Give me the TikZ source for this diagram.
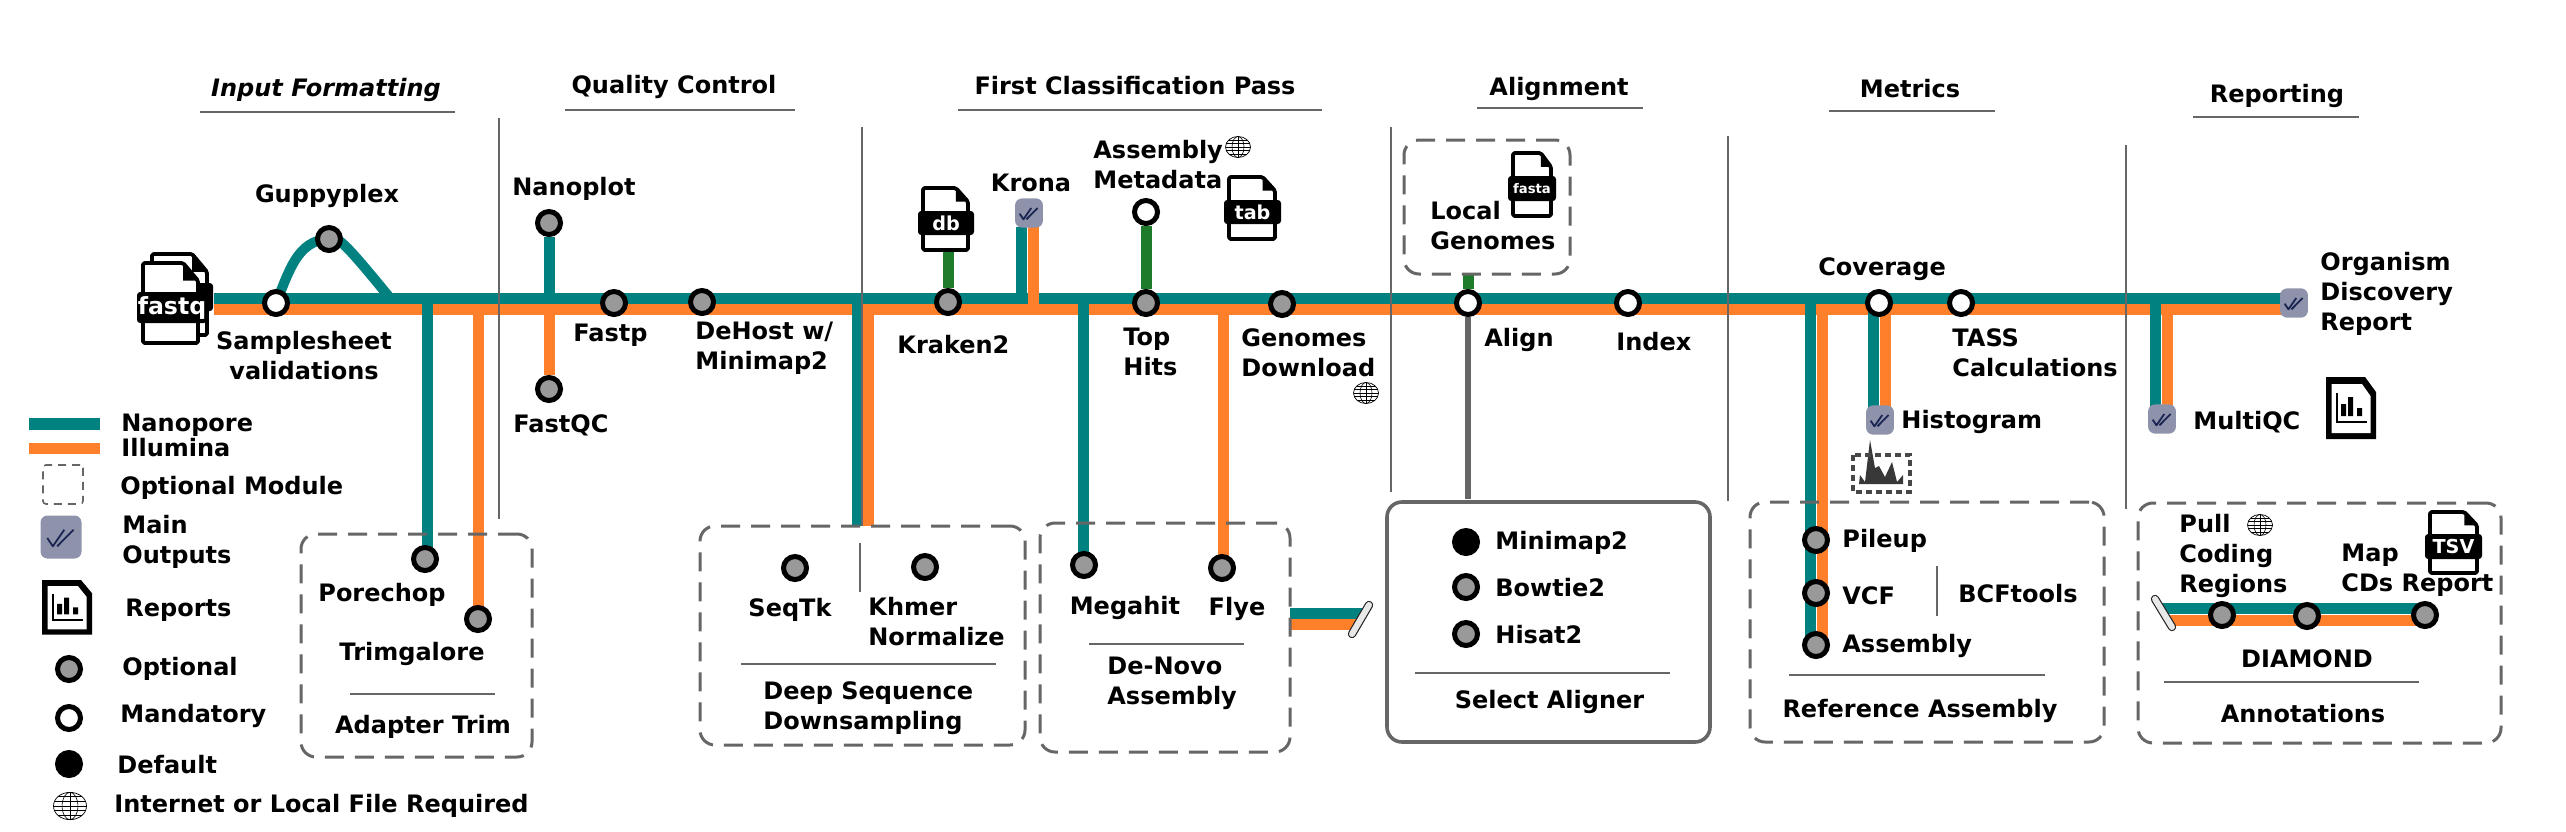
\documentclass[tikz,border=0pt]{standalone}
\usepackage{fontspec}
\setmainfont{DejaVu Sans}
\usetikzlibrary{fit}
\pgfdeclarelayer{lines}
\pgfsetlayers{lines,main}
\definecolor{nanoT}{HTML}{018281}
\definecolor{illuO}{HTML}{FF7F2A}
\definecolor{dbG}{HTML}{1C7C2C}
\definecolor{outF}{HTML}{8E93AB}
\definecolor{outC}{HTML}{1A2552}
\definecolor{ruleC}{HTML}{666666}
\tikzset{
 x=0.5pt,y=-0.5pt,
 tealln/.style={draw=nanoT,line width=5.5pt},
 orgln/.style={draw=illuO,line width=5.5pt},
 grnln/.style={draw=dbG,line width=5.5pt},
 greyln/.style={draw=ruleC,line width=2.8pt},
 optn/.style={circle,draw=black,line width=2.5pt,fill=black!40,minimum size=11.5pt,inner sep=0pt},
 mand/.style={circle,draw=black,line width=2.5pt,fill=white,minimum size=11.5pt,inner sep=0pt},
 deft/.style={circle,draw=black,line width=2.5pt,fill=black,minimum size=11.5pt,inner sep=0pt},
 lab/.style={font=\fontsize{12}{15}\selectfont\bfseries,inner sep=0pt,anchor=west,align=left,yshift=-0.5pt},
 labc/.style={font=\fontsize{12}{15}\selectfont\bfseries,inner sep=0pt,anchor=center,align=center,yshift=-0.5pt},
 hdr/.style={labc,yshift=-1pt},
 secrule/.style={draw=ruleC,line width=0.9pt},
 sepline/.style={draw=ruleC,line width=0.7pt},
 modbox/.style={draw=ruleC,line width=1.5pt,dash pattern=on 9.5pt off 5.5pt,rounded corners=7.5pt,inner sep=0pt},
 solbox/.style={draw=ruleC,line width=1.8pt,rounded corners=7.5pt,inner sep=0pt},
 docpg/.style={draw=black,line width=1.9pt,fill=white,rounded corners=0.8pt,line join=round},
 doclab/.style={fill=black,text=white,rounded corners=1.6pt,inner sep=0pt,font=\fontsize{9.6}{10}\selectfont\bfseries},
 endbar/.style={line width=4.2pt,draw=black!85,line cap=round},
 endbarin/.style={line width=3pt,draw=black!9,line cap=round},
 globe/.pic={
  \draw[line width=0.35pt,black,fill=white] (0,0) ellipse [x radius=12.5,y radius=10.5];
  \draw[line width=0.3pt,black] (0,0) ellipse [x radius=6,y radius=10.5];
  \draw[line width=0.3pt,black] (0,-10.5) -- (0,10.5) (-12.5,0) -- (12.5,0)
    (-11.7,-3.6) -- (11.7,-3.6) (-11.7,3.6) -- (11.7,3.6)
    (-9.2,-7.1) -- (9.2,-7.1) (-9.2,7.1) -- (9.2,7.1);
 },
 outicon/.pic={
  \fill[outF,rounded corners=3.5pt] (-20.5,-21.5) rectangle (20.5,21.5);
  \draw[outC,line width=0.9pt,line join=round] (-13.7,1) -- (-8.2,9.3) -- (3.3,-7.3);
  \draw[outC,line width=0.9pt] (-3.8,9.3) -- (12.6,-7.3);
 },
 repicon/.pic={
  \fill[black] (0,0) -- (39,0) -- (50,15) -- (50,62) -- (0,62) -- cycle;
  \fill[white] (5.5,7) -- (36,7) -- (44.5,19) -- (44.5,56) -- (5.5,56) -- cycle;
  \draw[black,line width=1pt] (11,16) -- (11,45) -- (41,45);
  \fill[black] (15,27) rectangle (20,39) (22,20) rectangle (27,39) (31,31) rectangle (36,39);
 },
}
\newcommand{\docpage}[4]{%
 \path[docpg] (#1,#2) -- ({#3-0.27*(#3-#1)},#2) -- (#3,{#2+0.22*(#4-#2)}) -- (#3,#4) -- (#1,#4) -- cycle;
 \fill[black] ({#3-0.27*(#3-#1)},#2) -- (#3,{#2+0.22*(#4-#2)}) -- ({#3-0.27*(#3-#1)},{#2+0.22*(#4-#2)}) -- cycle;
}
\begin{document}
\begin{tikzpicture}
\useasboundingbox (0,0) rectangle (2566,831);

% ---------- headers
\node[hdr,font=\fontsize{12}{15}\selectfont\bfseries\itshape] (hInput) at (326,87) {Input Formatting};
\node[hdr] (hQC) at (674,84) {Quality Control};
\node[hdr] (hFirst) at (1135,83) {First Classification Pass};
\node[hdr] (hAlign) at (1559,86) {Alignment};
\node[hdr] (hMetrics) at (1910,86) {Metrics};
\node[hdr] (hReport) at (2277,93) {Reporting};
\draw[secrule] (200,112) -- (455,112);
\draw[secrule] (565,110) -- (795,110);
\draw[secrule] (958,110) -- (1322,110);
\draw[secrule] (1477,108) -- (1643,108);
\draw[secrule] (1829,111) -- (1995,111);
\draw[secrule] (2193,117) -- (2359,117);

% ---------- separators
\draw[sepline] (499,118) -- (499,519);
\draw[sepline] (862,127) -- (862,526);
\draw[sepline] (1391,127) -- (1391,492);
\draw[sepline] (1728,136) -- (1728,501);
\draw[sepline] (2126,145) -- (2126,509);

% ---------- module boxes
\node[modbox,fit={(301,534)(532,757)}] (bTrim) {};
\node[modbox,fit={(700,526)(1025,745)}] (bDeep) {};
\node[modbox,fit={(1040,523)(1290,752)}] (bNovo) {};
\node[modbox,fit={(1404,140)(1570,274)}] (bLocal) {};
\node[solbox,fit={(1387,502)(1710,742)}] (bAlign) {};
\node[modbox,fit={(1750,502)(2104,742)}] (bRef) {};
\node[modbox,fit={(2138,503)(2501,743)}] (bAnno) {};

% ---------- main-line coordinates
\coordinate (mT0) at (214,298.5);  \coordinate (mT1) at (2282,298.5);
\coordinate (mO0) at (214,309.5);  \coordinate (mO1) at (2282,309.5);

% ---------- stations
\node[mand] (nSample) at (276,303) {};
\node[optn] (nGuppy) at (329,239) {};
\node[optn] (nNanoplot) at (549,223) {};
\node[optn] (nFastqc) at (549,389) {};
\node[optn] (nFastp) at (614,303) {};
\node[optn] (nDehost) at (702,302) {};
\node[optn] (nPore) at (425,559) {};
\node[optn] (nTrim) at (478,619) {};
\node[optn] (nSeqtk) at (795,568) {};
\node[optn] (nKhmer) at (925,567) {};
\node[optn] (nKraken) at (948,302) {};
\node[optn] (nTop) at (1146,303) {};
\node[mand] (nMeta) at (1146,212) {};
\node[optn] (nGenomes) at (1282,304) {};
\node[optn] (nMega) at (1084,565) {};
\node[optn] (nFlye) at (1222,568) {};
\node[mand] (nAlign) at (1468,303) {};
\node[mand] (nIndex) at (1628,303) {};
\node[deft] (nMini) at (1466,542) {};
\node[optn] (nBow) at (1466,587) {};
\node[optn] (nHis) at (1466,634) {};
\node[optn] (nPile) at (1816,540) {};
\node[optn] (nVcf) at (1816,593) {};
\node[optn] (nAsm) at (1816,645) {};
\node[mand] (nCov) at (1879,303) {};
\node[mand] (nTass) at (1961,303) {};
\node[optn] (nPull) at (2222,615) {};
\node[optn] (nDia) at (2307,616) {};
\node[optn] (nMap) at (2425,615) {};

% ---------- output markers
\coordinate (oKrona) at (1029,213);
\coordinate (oHist) at (1880,420);
\coordinate (oMulti) at (2162,419);
\coordinate (oReport) at (2294,303);
\pic[scale=0.68] at (oKrona) {outicon};
\pic[scale=0.68] at (oHist) {outicon};
\pic[scale=0.68] at (oMulti) {outicon};
\pic[scale=0.68] at (oReport) {outicon};

% ---------- connectors
\begin{pgfonlayer}{lines}
\draw[tealln] (mT0) -- (mT1);
\draw[orgln] (mO0) -- (mO1);
\draw[tealln,line width=5pt] (nSample.center) .. controls (289,272) and (297,240) .. (nGuppy.center) .. controls (337,236) and (341,238) .. (390,298);
% junction coordinates
\coordinate (jPore) at (427,304);
\coordinate (jTrim) at (478,315);
\draw[tealln] (jPore) -- (jPore |- nPore);
\draw[orgln] (jTrim) -- (jTrim |- nTrim);
\draw[tealln,line width=5.5pt] (nNanoplot) -- (nNanoplot |- mT0);
\draw[orgln] (nFastqc) -- (nFastqc |- mO1);
\coordinate (jDeepT) at (857.5,304);
\coordinate (jDeepO) at (868.5,315);
\draw[tealln] (jDeepT) -- (857.5,526);
\draw[orgln] (jDeepO) -- (868.5,526);
\draw[grnln] (nKraken) -- (nKraken |- 0,250);
\coordinate (jKronaT) at (1021,293);
\coordinate (jKronaO) at (1033,315);
\draw[tealln] (jKronaT) -- (1021,227);
\draw[orgln] (jKronaO) -- (1033,227);
\draw[grnln] (nMeta) -- (nTop);
\coordinate (jMega) at (1083,304);
\coordinate (jFlye) at (1223,315);
\draw[tealln] (jMega) -- (jMega |- nMega);
\draw[orgln] (jFlye) -- (jFlye |- nFlye);
\draw[grnln] (nAlign) -- (nAlign |- 0,274);
\draw[greyln] (nAlign) -- (nAlign |- 0,499);
\coordinate (jRefT) at (1810,304);
\coordinate (jRefO) at (1822,315);
\draw[orgln] (jRefO) -- (jRefO |- nAsm);
\draw[tealln] (jRefT) -- (jRefT |- nAsm);
\coordinate (jHistT) at (1873,304);
\coordinate (jHistO) at (1885,315);
\draw[tealln] (jHistT) -- (1873,410);
\draw[orgln] (jHistO) -- (1885,410);
\coordinate (jMultiT) at (2155,304);
\coordinate (jMultiO) at (2167,315);
\draw[tealln] (jMultiT) -- (2155,410);
\draw[orgln] (jMultiO) -- (2167,410);
% de-novo stub
\coordinate (sT0) at (1290,613.5); \coordinate (sT1) at (1362,613.5);
\coordinate (sO0) at (1290,624.5); \coordinate (sO1) at (1356,624.5);
\draw[tealln] (sT0) -- (sT1);
\draw[orgln] (sO0) -- (sO1);
% diamond line
\coordinate (dT0) at (2160,608.5); \coordinate (dO0) at (2166,620);
\draw[tealln] (dT0) -- (nMap.center |- dT0);
\draw[orgln] (dO0) -- (nMap.center |- dO0);
\end{pgfonlayer}

% ---------- end bars
\draw[endbar] (1369,605) -- (1352,634);
\draw[endbarin] (1369,605) -- (1352,634);
\draw[endbar] (2155,599) -- (2172,627);
\draw[endbarin] (2155,599) -- (2172,627);

% ---------- file icons
\docpage{152}{254}{207}{335}
\fill[black,rounded corners=1.6pt] (196,283) rectangle (213,311);
\docpage{143}{263}{198}{343}
\node[doclab,font=\fontsize{11.8}{12}\selectfont\bfseries,minimum width=35pt,minimum height=15.5pt] (fFastq) at (172,307.5) {fastq};
\docpage{923}{188}{968}{250}
\node[doclab,minimum width=28pt,minimum height=12pt] (fDb) at (946,223) {db};
\docpage{1229}{177}{1275}{239}
\node[doclab,minimum width=28.5pt,minimum height=12pt] (fTab) at (1252.5,212) {tab};
\docpage{1513}{153}{1551}{216}
\node[doclab,font=\fontsize{6.6}{7}\selectfont\bfseries,minimum width=24pt,minimum height=12.5pt] (fFasta) at (1532,188.5) {fasta};
\docpage{2430}{512}{2477}{573}
\node[doclab,minimum width=28.5pt,minimum height=12.5pt] (fTsv) at (2453.5,546.5) {TSV};

% ---------- report icons
\pic at (2326,377) {repicon};
\pic[yscale=0.88] at (42,580) {repicon};

% ---------- histogram icon
\fill[black!78] (1859,484) -- (1860,475) -- (1865,482) -- (1870,440) -- (1875,468) -- (1879,466) -- (1885,477) -- (1892,462) -- (1897,482) -- (1903,475) -- (1903,484) -- cycle;
\draw[black!72,line width=1.9pt,dash pattern=on 3.2pt off 1.8pt] (1853,455) rectangle (1910,492);

% ---------- globes
\pic at (1238,147) {globe};
\pic at (1366,393) {globe};
\pic at (2260,525) {globe};
\pic[xscale=1.32,yscale=1.3] at (70,806) {globe};

% ---------- labels
\node[labc] (tGuppy) at (327,195) {Guppyplex};
\node[labc] (tSample) at (304,355) {Samplesheet\\validations};
\node[lab] (tNanoplot) at (512,188) {Nanoplot};
\node[lab] (tFastp) at (573,334) {Fastp};
\node[lab] (tDehost) at (695,347) {DeHost w/\\Minimap2};
\node[lab] (tFastqc) at (513,424) {FastQC};
\node[labc] (tPore) at (382,594) {Porechop};
\node[labc] (tTrim) at (412,653) {Trimgalore};
\draw[secrule] (350,694) -- (495,694);
\node[labc] (tAdapter) at (423,726) {Adapter Trim};

\node[labc] (tSeqtk) at (790,609) {SeqTk};
\node[lab] (tKhmer) at (868,621) {Khmer\\Normalize};
\draw[sepline] (860,543) -- (860,592);
\draw[secrule] (741,664) -- (996,664);
\node[lab] (tDeep) at (763,707) {Deep Sequence\\Downsampling};

\node[lab] (tKraken) at (897,344) {Kraken2};
\node[labc] (tKrona) at (1031,182) {Krona};
\node[lab] (tMeta) at (1093,164) {Assembly\\Metadata};
\node[lab] (tTop) at (1123,351) {Top\\Hits};
\node[lab] (tGenomes) at (1241,352) {Genomes\\Download};

\node[labc] (tMega) at (1125,607) {Megahit};
\node[labc] (tFlye) at (1237,608) {Flye};
\draw[secrule] (1089,644) -- (1244,644);
\node[lab] (tNovo) at (1107,682) {De-Novo\\Assembly};

\node[lab] (tLocal) at (1430,225) {Local\\Genomes};
\node[lab] (tAlign) at (1484,339) {Align};
\node[lab] (tIndex) at (1616,341) {Index};

\node[lab] (tMini) at (1495,542) {Minimap2};
\node[lab] (tBow) at (1495,587) {Bowtie2};
\node[lab] (tHis) at (1495,634) {Hisat2};
\draw[secrule] (1415,673) -- (1670,673);
\node[labc] (tSelect) at (1549.5,701) {Select Aligner};

\node[labc] (tCov) at (1882,268) {Coverage};
\node[lab] (tTass) at (1952,352) {TASS\\Calculations};
\node[lab] (tHist) at (1901,421) {Histogram};
\node[lab] (tPile) at (1842,540) {Pileup};
\node[lab] (tVcf) at (1842,595) {VCF};
\node[lab] (tAsm) at (1842,645) {Assembly};
\node[lab] (tBcf) at (1958,593) {BCFtools};
\draw[sepline] (1937,566) -- (1937,616);
\draw[secrule] (1789,675) -- (2045,675);
\node[labc] (tRef) at (1920,710) {Reference Assembly};

\node[lab] (tMulti) at (2193,421) {MultiQC};
\node[lab] (tOrg) at (2320,293) {Organism\\Discovery\\Report};
\node[lab] (tPull) at (2179,555) {Pull\\Coding\\Regions};
\node[lab] (tMap) at (2341,569) {Map\\CDs Report};
\node[labc] (tDia) at (2307,658) {DIAMOND};
\draw[secrule] (2164,682) -- (2419,682);
\node[labc] (tAnno) at (2303,713) {Annotations};

% ---------- legend
\fill[nanoT] (29,418) rectangle (100,430);
\fill[illuO] (29,443) rectangle (100,454);
\node[lab] (lNano) at (121,424) {Nanopore};
\node[lab] (lIllu) at (121,447) {Illumina};
\node[draw=ruleC,line width=0.8pt,dash pattern=on 4pt off 3pt,rounded corners=1.5pt,inner sep=0pt,fit={(43,465)(83,504)}] (lBox) {};
\node[lab] (lOpt) at (120,487) {Optional Module};
\pic at (61,537) {outicon};
\node[lab] (lMain) at (122,541) {Main\\Outputs};
\node[lab] (lRep) at (125,609) {Reports};
\node[optn] (lnOpt) at (69,669) {};
\node[lab] (lOptional) at (122,668) {Optional};
\node[mand] (lnMand) at (69,718) {};
\node[lab] (lMand) at (120,715) {Mandatory};
\node[deft] (lnDef) at (69,764) {};
\node[lab] (lDef) at (117,764) {Default};
\node[lab] (lNet) at (114,805) {Internet or Local File Required};
\end{tikzpicture}
\end{document}
